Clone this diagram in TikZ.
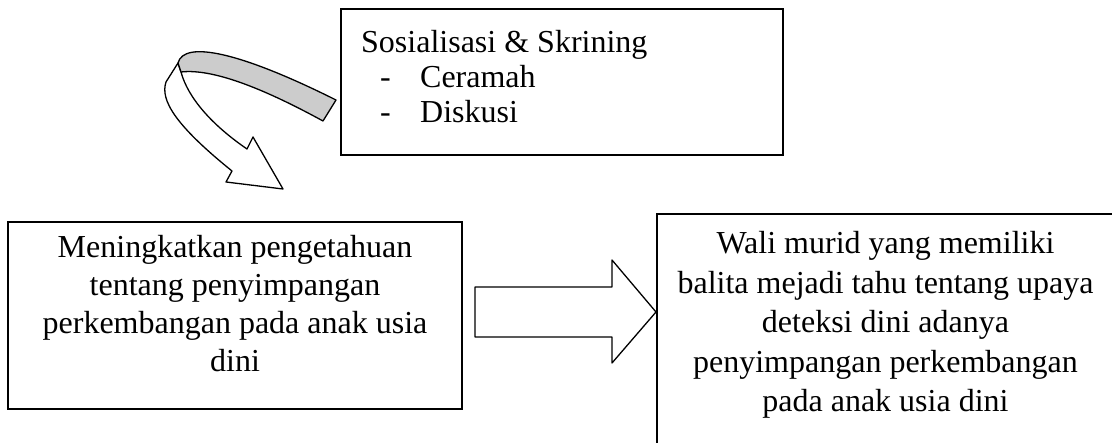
\documentclass[tikz,border=0pt]{standalone}
\usepackage{fontspec}
\setmainfont{Liberation Serif}
\usetikzlibrary{calc}
\begin{document}
\begin{tikzpicture}[x=1pt,y=-1pt,
  frame/.style={draw=black,line width=1.5pt,rectangle,inner sep=0pt},
  txt/.style={inner sep=0pt,font=\fontsize{32}{38}\selectfont},
  ribbon/.style={draw=black,line width=1.3pt,line join=round}]
\useasboundingbox (0,0) rectangle (1112,443);
\clip (0,0) rectangle (1112,443);
% boxes
\node[frame, minimum width=442pt, minimum height=146pt] (tb) at (562,82) {};
\node[frame, minimum width=454pt, minimum height=187pt] (lb) at (235,315.5) {};
\node[frame, minimum width=457pt, minimum height=256pt] (rb) at (885.5,342) {};
% texts (anchor = baseline of the last line)
\node[txt, anchor=base west, align=left, font=\fontsize{32}{35}\selectfont] (tt) at (361,123)
  {Sosialisasi \& Skrining\\
   \hspace*{19pt}\makebox[40pt][l]{-}Ceramah\\
   \hspace*{19pt}\makebox[40pt][l]{-}Diskusi};
\node[txt, anchor=base, align=center] (lt) at (235,372)
  {Meningkatkan pengetahuan\\tentang penyimpangan\\perkembangan pada anak usia\\dini};
\node[txt, anchor=base, align=center, font=\fontsize{32}{39.5}\selectfont] (rt) at (885.5,412)
  {Wali murid yang memiliki\\balita mejadi tahu tentang upaya\\deteksi dini adanya\\penyimpangan perkembangan\\pada anak usia dini};
% block arrow between the lower boxes
\coordinate (atail) at (475,312);
\coordinate (atip) at (656,312);
\draw[ribbon, fill=white] (atail) ++(0,-25) -- ++(137,0) -- ++(0,-27) -- (atip)
  -- ++(-44,51) -- ++(0,-26) -- ++(-137,0) -- cycle;
% curved ribbon arrow from top box towards left box
\coordinate (cs1) at (336,100);
\coordinate (cs2) at (323,121);
\coordinate (ctip) at (283,189);
\draw[ribbon, fill=white] (178,63) -- (166,82) .. controls (160,100) and (175,125) .. (232,171)
  -- (226,182) -- (ctip) -- (253,137) -- (247,149)
  .. controls (212,125) and (188,98) .. (181,72) -- cycle;
\draw[ribbon, fill=black!20] (178,63) .. controls (184,40) and (240,52) .. (cs1) -- (cs2)
  .. controls (270,92) and (215,68) .. (181,72) -- cycle;
\end{tikzpicture}
\end{document}
